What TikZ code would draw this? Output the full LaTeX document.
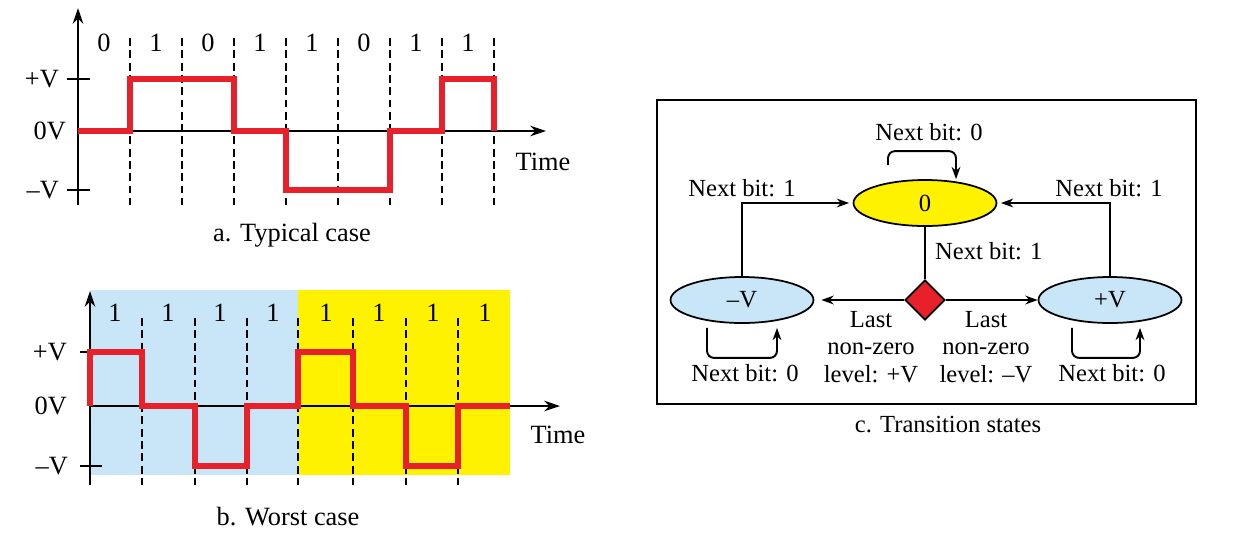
\documentclass[tikz,border=0pt]{standalone}
\usepackage{fontspec}
\setmainfont{Liberation Serif}
\usetikzlibrary{arrows.meta,shapes.geometric,positioning,calc}
\definecolor{sigred}{HTML}{E8202A}
\definecolor{paleblue}{HTML}{C8E6F8}
\definecolor{brightyellow}{HTML}{FFF200}
\tikzset{
  axis/.style={line width=1.1pt,-{Stealth[length=9pt,width=6pt]}},
  signal/.style={sigred,line width=3.4pt,line join=miter},
  bitline/.style={line width=0.8pt,dash pattern=on 4.5pt off 2.5pt},
  big/.style={font=\fontsize{15}{18}\selectfont},
  small/.style={font=\fontsize{14}{15.5}\selectfont},
  state/.style={ellipse,draw,line width=1pt,minimum width=2.86cm,minimum height=0.92cm,inner sep=0pt,small},
  arr/.style={line width=1.1pt,-{Stealth[length=7pt,width=5pt]}}
}
\begin{document}
\begin{tikzpicture}[x=0.02cm,y=-0.02cm]
\useasboundingbox (0,0) rectangle (1236,542);
% a. typical case
\foreach \i in {1,...,8} \draw[bitline] ({78+52*\i},38) -- ({78+52*\i},205);
\draw[axis] (78,205) -- (78,8);
\draw[axis] (78,131) -- (546,131);
\draw[line width=1.1pt] (67,79) -- (90,79); \draw[line width=1.1pt] (67,190) -- (90,190);
\foreach \b [count=\i] in {0,1,0,1,1,0,1,1} \node[big] (abit\i) at ({52+52*\i},43) {\b};
\draw[signal] (78,131) -| (130,79) -| (234,131) -| (286,190) -| (390,131) -| (442,79) -| (494,131);
\node[big,anchor=east] (apos) at (65,79) {+V};
\node[big,anchor=east] (azero) at (72,131) {0V};
\node[big,anchor=east] (aneg) at (65,190) {--V};
\node[big] (atime) at (543,162) {Time};
\node[big] (acap) at (292,235) {a. Typical case};
% b. worst case
\fill[paleblue] (90,290) rectangle (298,475);
\fill[brightyellow] (298,290) rectangle (510,475);
\foreach \x in {142,195,247,298,353,406,458} \draw[bitline] (\x,318) -- (\x,485);
\draw[axis] (90,485) -- (90,291);
\draw[axis] (90,406) -- (560,406);
\draw[line width=1.1pt] (80,352) -- (100,352); \draw[line width=1.1pt] (80,466) -- (102,466);
\foreach \x [count=\i] in {115,168,220,273,326,379,433,485} \node[big] (bbit\i) at (\x,313) {1};
\draw[signal] (90,406) -- (90,352) -| (142,406) -| (195,466) -| (247,406) -| (298,352) -| (353,406) -| (406,466) -| (458,406) -- (510,406);
\node[big,anchor=east] (bpos) at (73,352) {+V};
\node[big,anchor=east] (bzero) at (73,406) {0V};
\node[big,anchor=east] (bneg) at (74,466) {--V};
\node[big] (btime) at (558,435) {Time};
\node[big] (bcap) at (288,517) {b. Worst case};
% c. transition states
\draw[line width=1.1pt] (657,100) rectangle (1196,404);
\node[state,fill=brightyellow] (zero) at (925,203) {0};
\node[state,fill=paleblue] (neg) at (742,300) {--V};
\node[state,fill=paleblue] (pos) at (1110,300) {+V};
\node[diamond,draw,fill=sigred,line width=1pt,minimum size=0.8cm,inner sep=0pt] (dec) at (925,300) {};
\draw[line width=1.1pt] (zero) -- (dec);
\draw[arr,shorten >=4pt] (dec) -- (neg);
\draw[arr] (dec) -- (pos);
\draw[arr,shorten >=2pt] (neg) |- (zero);
\draw[arr,shorten >=2pt] (pos) |- (zero);
\draw[arr,rounded corners=4pt] ($(zero.north)+(-37,-14)$) |- ($(zero.north)+(31,-28)$) -- ($(zero.north)+(31,0)$);
\draw[arr,rounded corners=4pt] ($(neg.south)+(-35,4)$) |- ($(neg.south)+(35,34)$) -- ($(neg.south)+(35,4)$);
\draw[arr,rounded corners=4pt] ($(pos.south)+(-38,4)$) |- ($(pos.south)+(30,34)$) -- ($(pos.south)+(30,4)$);
\node[small] (lzero) at (929,132) {Next bit: 0};
\node[small] (lnegup) at (742,188) {Next bit: 1};
\node[small] (lposup) at (1109,188) {Next bit: 1};
\node[small,anchor=west] (ldec) at (929,251) {Next bit: 1};
\node[small] (lnegself) at (745,373) {Next bit: 0};
\node[small] (lposself) at (1112,373) {Next bit: 0};
\node[small,align=center] (lleft) at (871,347) {Last\\non-zero\\level: +V};
\node[small,align=center] (lright) at (986,347) {Last\\non-zero\\level: --V};
\node[small] (ccap) at (948,425) {c. Transition states};
\end{tikzpicture}
\end{document}
